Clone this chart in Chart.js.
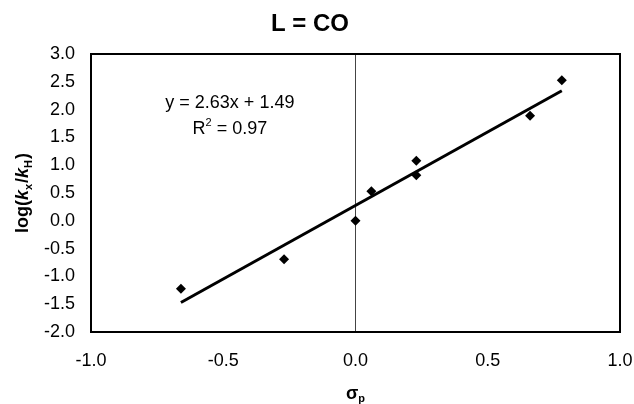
<!DOCTYPE html>
<html><head><meta charset="utf-8">
<script src="https://cdn.jsdelivr.net/npm/chart.js@4"></script>
<style>html,body{margin:0;padding:0;background:#fff;}#wrap{width:634px;height:404px;}</style>
</head><body><div id="wrap"><canvas id="c" width="634" height="404"></canvas></div>
<script>
// ---- data ----
const sigmaP = [-0.66, -0.27, 0.00, 0.06, 0.23, 0.23, 0.66, 0.78];
const logRatio = [-1.22, -0.69, 0.00, 0.53, 1.08, 0.82, 1.89, 2.53];
const fitX = [-0.66, 0.78];
const fitY = [-1.47, 2.34];
const xTickValues = [-1, -0.5, 0, 0.5, 1];
const xTickLabels = ['-1.0', '-0.5', '0.0', '0.5', '1.0'];
const yTickValues = [-2, -1.5, -1, -0.5, 0, 0.5, 1, 1.5, 2, 2.5, 3];
const yTickLabels = ['-2.0', '-1.5', '-1.0', '-0.5', '0.0', '0.5', '1.0', '1.5', '2.0', '2.5', '3.0'];
const titleText = 'L = CO';
const equationText = 'y = 2.63x + 1.49';
const r2Value = '0.97';

// ---- layout / style ----
const FONT = '"Liberation Sans", Arial, Helvetica, sans-serif';
const eqPos = {x: -0.475, y: 2.14};
const r2Pos = {x: -0.475, y: 1.67};

const decor = {
  id: 'decor',
  beforeDatasetsDraw(chart) {
    const {ctx, chartArea: a} = chart;
    ctx.save();
    ctx.strokeStyle = '#000';
    ctx.lineWidth = 2;
    ctx.strokeRect(a.left, a.top, a.right - a.left, a.bottom - a.top);
    ctx.restore();
  },
  afterDraw(chart) {
    const {ctx, chartArea: a, scales: {x, y}} = chart;
    ctx.save();
    ctx.fillStyle = '#000';
    ctx.textBaseline = 'alphabetic';
    // annotation
    ctx.font = '18px ' + FONT;
    ctx.textAlign = 'center';
    ctx.fillText(equationText, x.getPixelForValue(eqPos.x), y.getPixelForValue(eqPos.y) + 6);
    // R^2 line
    const rx = x.getPixelForValue(r2Pos.x), ry = y.getPixelForValue(r2Pos.y) + 6;
    ctx.textAlign = 'left';
    ctx.font = '18px ' + FONT;
    const wR = ctx.measureText('R').width;
    const rest = ' = ' + r2Value;
    const wRest = ctx.measureText(rest).width;
    ctx.font = '11px ' + FONT;
    const w2 = ctx.measureText('2').width;
    let sx = rx - (wR + w2 + wRest) / 2;
    ctx.font = '18px ' + FONT;
    ctx.fillText('R', sx, ry);
    ctx.font = '11px ' + FONT;
    ctx.fillText('2', sx + wR, ry - 8);
    ctx.font = '18px ' + FONT;
    ctx.fillText(rest, sx + wR + w2, ry);

    // x axis title: sigma_p
    const cx = (a.left + a.right) / 2;
    ctx.font = 'bold 18px ' + FONT;
    const ws = ctx.measureText('σ').width;
    ctx.font = 'bold 11px ' + FONT;
    const wp = ctx.measureText('p').width;
    let tx = cx - (ws + wp) / 2;
    ctx.font = 'bold 18px ' + FONT;
    ctx.fillText('σ', tx, 399);
    ctx.font = 'bold 11px ' + FONT;
    ctx.fillText('p', tx + ws, 402);

    // y axis title: log(k_x/k_H)
    const parts = [
      {t: 'log(', f: 'bold 18px ', dy: 0},
      {t: 'k', f: 'italic bold 18px ', dy: 0},
      {t: 'x', f: 'bold 11px ', dy: 4},
      {t: '/', f: 'bold 18px ', dy: 0},
      {t: 'k', f: 'italic bold 18px ', dy: 0},
      {t: 'H', f: 'bold 11px ', dy: 4},
      {t: ')', f: 'bold 18px ', dy: 0}
    ];
    let total = 0;
    parts.forEach(p => { ctx.font = p.f + FONT; p.w = ctx.measureText(p.t).width + (p.f.indexOf('11px') >= 0 ? 1 : 0); total += p.w; });
    ctx.translate(28, (a.top + a.bottom) / 2);
    ctx.rotate(-Math.PI / 2);
    let px = -total / 2;
    parts.forEach(p => { ctx.font = p.f + FONT; ctx.fillText(p.t, px, p.dy); px += p.w; });
    ctx.restore();
  }
};

new Chart(document.getElementById('c'), {
  type: 'scatter',
  data: {
    datasets: [
      {
        label: 'data',
        data: sigmaP.map((v, i) => ({x: v, y: logRatio[i]})),
        pointStyle: 'rectRot',
        pointRadius: 5,
        backgroundColor: '#000',
        borderColor: '#000',
        borderWidth: 0,
        showLine: false
      },
      {
        label: 'fit',
        data: fitX.map((v, i) => ({x: v, y: fitY[i]})),
        showLine: true,
        borderColor: '#000',
        borderWidth: 3,
        pointRadius: 0,
        fill: false
      }
    ]
  },
  options: {
    responsive: false,
    devicePixelRatio: 1,
    animation: false,
    layout: {padding: {top: 6, right: 14, left: 0, bottom: 0}},
    plugins: {
      legend: {display: false},
      tooltip: {enabled: false},
      title: {
        display: true, text: titleText, color: '#000',
        font: {family: FONT, size: 24, weight: 'bold', lineHeight: 1.2},
        padding: {top: 4, bottom: 15.2}
      }
    },
    scales: {
      x: {
        type: 'linear', min: -1, max: 1,
        afterBuildTicks: s => { s.ticks = xTickValues.map(v => ({value: v})); },
        afterFit: s => { s.height = 72; s.paddingLeft = 0; s.paddingRight = 0; },
        ticks: {
          callback: (v, i) => xTickLabels[i],
          color: '#000', font: {family: FONT, size: 18}, padding: 18,
          maxRotation: 0, autoSkip: false
        },
        grid: {
          drawTicks: false,
          color: c => (c.tick && c.tick.value === 0) ? '#444' : 'rgba(0,0,0,0)',
          lineWidth: 1
        },
        border: {display: false}
      },
      y: {
        type: 'linear', min: -2, max: 3,
        afterBuildTicks: s => { s.ticks = yTickValues.map(v => ({value: v})); },
        afterFit: s => { s.width = 91; s.paddingTop = 0; s.paddingBottom = 0; },
        ticks: {
          callback: (v, i) => yTickLabels[i],
          color: '#000', font: {family: FONT, size: 18}, padding: 16,
          autoSkip: false
        },
        grid: {display: false, drawTicks: false},
        border: {display: false}
      }
    }
  },
  plugins: [decor]
});
</script>
</body></html>
